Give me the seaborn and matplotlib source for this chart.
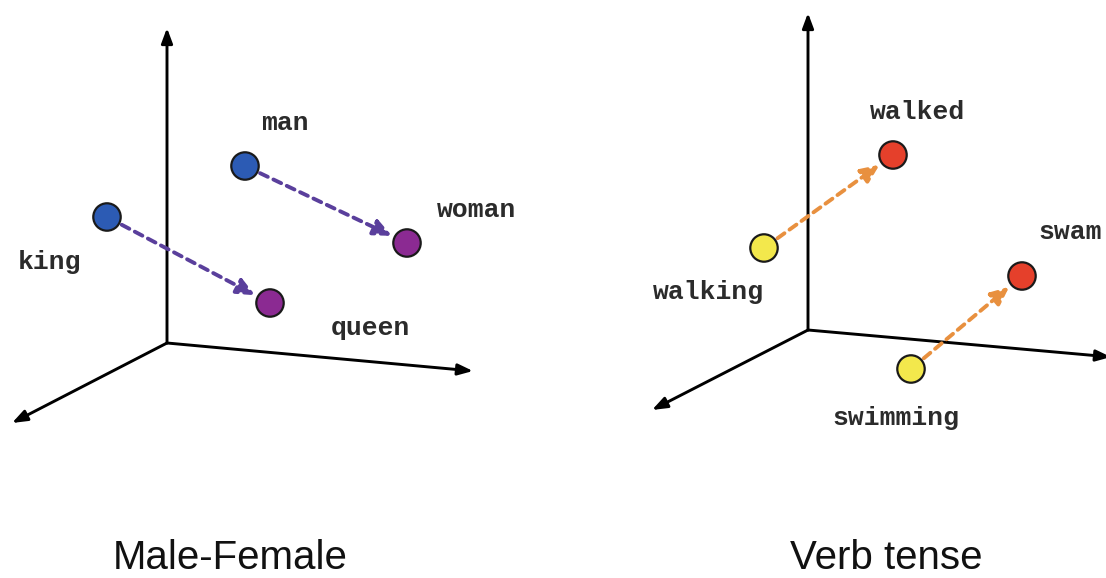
import matplotlib
matplotlib.use("Agg")
import matplotlib.pyplot as plt
import seaborn as sns
import pandas as pd

# panel 1: male-female (panel-local coords, y grows downwards)
mf_words = ["king", "man", "queen", "woman"]
mf_x = [107, 245, 270, 407]
mf_y = [217, 166, 303, 243]
mf_label_x = [50, 285, 370, 477]
mf_label_y = [262, 123, 328, 210]
mf_pairs = [("king", "queen"), ("man", "woman")]
mf_origin = (167, 343)
mf_axis_ends = [(167, 28), (473, 371), (12, 423)]

# panel 2: verb tense
vt_words = ["walking", "walked", "swimming", "swam"]
vt_x = [211, 340, 358, 469]
vt_y = [248, 155, 369, 276]
vt_label_x = [155, 365, 343, 517]
vt_label_y = [292, 112, 418, 232]
vt_pairs = [("walking", "walked"), ("swimming", "swam")]
vt_origin = (255, 330)
vt_axis_ends = [(255, 13), (558, 357), (99, 410)]

titles = ["Male-Female", "Verb tense"]
title_x = [230, 333]

point_colors = {"king": "#2C5BB4", "man": "#2C5BB4", "queen": "#8B2A92", "woman": "#8B2A92",
                "walking": "#F3E84C", "walked": "#E5402B", "swimming": "#F3E84C", "swam": "#E5402B"}
arrow_colors = ["#5A3F9C", "#E8903F"]

sns.set_theme(style="white")
plt.rcParams["font.family"] = ["DejaVu Sans"]

fig = plt.figure(figsize=(11.06, 5.78), dpi=100)
fig.patch.set_facecolor("white")

panels = [
    (mf_words, mf_x, mf_y, mf_label_x, mf_label_y, mf_pairs, mf_origin, mf_axis_ends),
    (vt_words, vt_x, vt_y, vt_label_x, vt_label_y, vt_pairs, vt_origin, vt_axis_ends),
]

for i, (words, xs, ys, lx, ly, pairs, origin, ends) in enumerate(panels):
    ax = fig.add_axes([0.5 * i, 0, 0.5, 1])
    ax.set_xlim(0, 553)
    ax.set_ylim(578, 0)
    ax.axis("off")

    # coordinate axes drawn as arrows from the origin
    for end in ends:
        ax.annotate("", xy=end, xytext=origin, annotation_clip=False,
                    arrowprops=dict(arrowstyle="-|>,head_length=0.75,head_width=0.28",
                                    color="black", lw=2.1, shrinkA=0, shrinkB=0))

    df = pd.DataFrame({"word": words, "x": xs, "y": ys})
    pos = dict(zip(words, zip(xs, ys)))

    # dashed relation arrows
    for a, b in pairs:
        ax.annotate("", xy=pos[b], xytext=pos[a], annotation_clip=False,
                    arrowprops=dict(arrowstyle="-|>,head_length=0.9,head_width=0.4",
                                    color=arrow_colors[i], lw=2.8, linestyle=(0, (2.2, 1.6)),
                                    shrinkA=12, shrinkB=12), zorder=3)

    sns.scatterplot(data=df, x="x", y="y", hue="word", palette=point_colors,
                    s=390, edgecolor="#1a1a1a", linewidth=1.6, legend=False, ax=ax, zorder=5)
    ax.set_xlim(0, 553)
    ax.set_ylim(578, 0)

    for w, x, y in zip(words, lx, ly):
        ax.text(x, y, w, family="Liberation Mono", fontsize=19, fontweight="bold",
                color="#2b2b2b", ha="center", va="center")

    ax.text(title_x[i], 577, titles[i], family="Liberation Sans", fontsize=29,
            color="#111111", ha="center", va="bottom")

fig.savefig("out.png", dpi=100, facecolor="white")
